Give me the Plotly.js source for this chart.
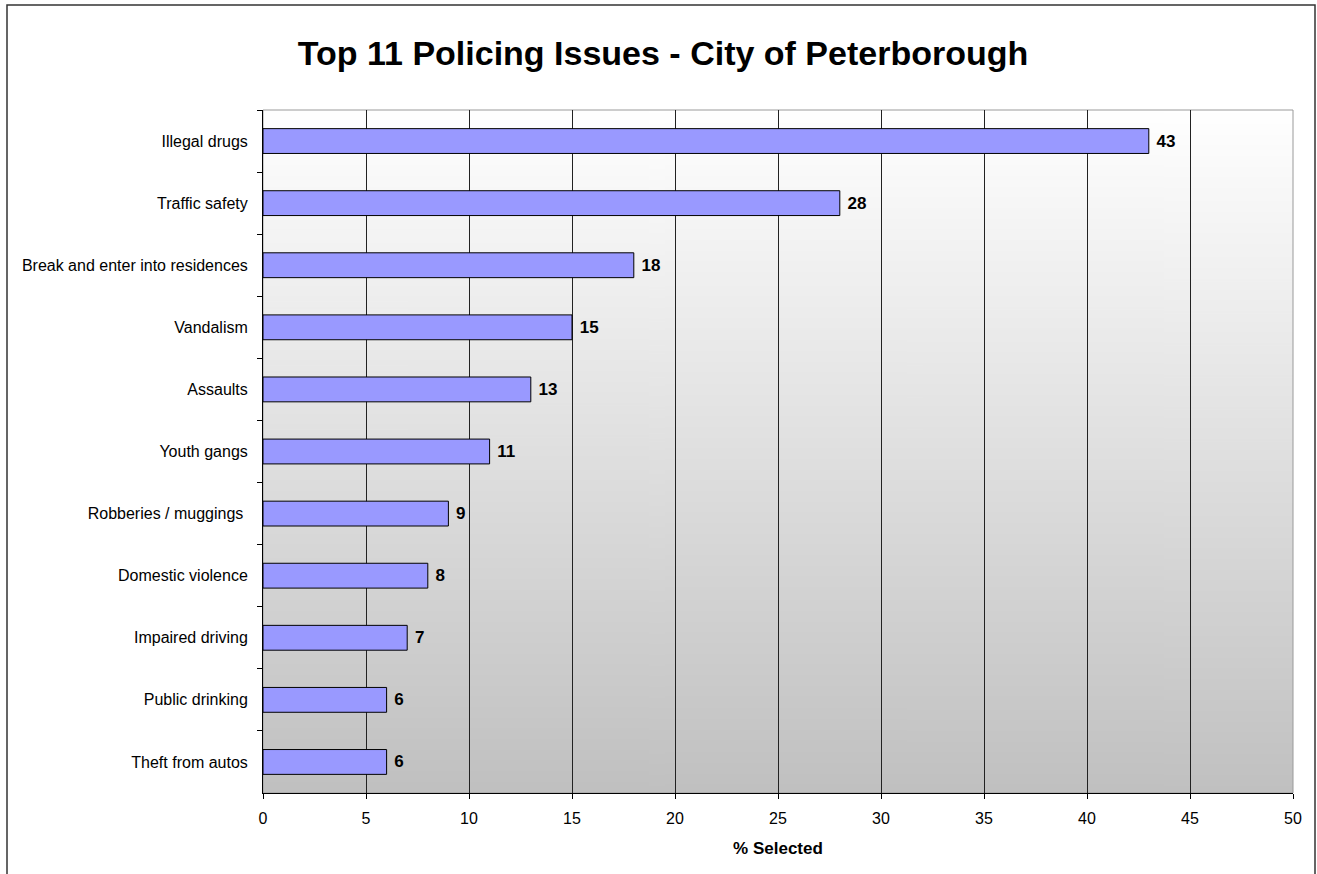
<!DOCTYPE html>
<html>
<head>
<meta charset="utf-8">
<script src="https://cdn.plot.ly/plotly-3.0.1.min.js"></script>
<style>
html,body{margin:0;padding:0;background:#fff;}
#chart{width:1317px;height:874px;}
</style>
</head>
<body>
<div id="chart"></div>
<script>
// Data
const categories = [
  "Illegal drugs",
  "Traffic safety",
  "Break and enter into residences",
  "Vandalism",
  "Assaults",
  "Youth gangs",
  "Robberies / muggings ",
  "Domestic violence",
  "Impaired driving",
  "Public drinking",
  "Theft from autos"
];
const values = [43, 28, 18, 15, 13, 11, 9, 8, 7, 6, 6];
const xTickValues = [0, 5, 10, 15, 20, 25, 30, 35, 40, 45, 50];
const chartTitle = "Top 11 Policing Issues - City of Peterborough";
const xTitle = "% Selected";

// Gradient background image for plot area
function gradientImage() {
  const c = document.createElement('canvas');
  c.width = 4; c.height = 512;
  const ctx = c.getContext('2d');
  const g = ctx.createLinearGradient(0, 0, 0, 512);
  g.addColorStop(0, '#ffffff');
  g.addColorStop(1, '#c0c0c0');
  ctx.fillStyle = g;
  ctx.fillRect(0, 0, 4, 512);
  return c.toDataURL('image/png');
}

const W = 1317, H = 874;
const mL = 263, mR = 24, mT = 110, mB = 81;
const pw = W - mL - mR, ph = H - mT - mB;
const px = v => (v - mL) / pw;
const py = v => (H - mB - v) / ph;

const trace = {
  type: 'bar',
  orientation: 'h',
  y: categories,
  x: values,
  width: 0.4,
  marker: {color: '#9999ff', line: {color: '#000000', width: 1}},
  text: values.map(String),
  textposition: 'outside',
  texttemplate: ' %{text}',
  textfont: {family: 'Liberation Sans, Arial, sans-serif', size: 17, color: '#000', weight: 'bold'},
  cliponaxis: false,
  hoverinfo: 'skip'
};

const layout = {
  width: W, height: H,
  margin: {l: mL, r: mR, t: mT, b: mB, pad: 0},
  paper_bgcolor: '#ffffff',
  plot_bgcolor: 'rgba(0,0,0,0)',
  showlegend: false,
  font: {family: 'Liberation Sans, Arial, sans-serif', color: '#000'},
  title: {
    text: '<b>' + chartTitle + '</b>',
    font: {size: 34, color: '#000', family: 'Liberation Sans, Arial, sans-serif'},
    x: 663 / W, xanchor: 'center', xref: 'container',
    y: 1 - 53 / H, yanchor: 'middle', yref: 'container'
  },
  xaxis: {
    range: [0, 50],
    tickvals: xTickValues,
    ticktext: xTickValues.map(String),
    showgrid: true,
    gridcolor: '#222222',
    gridwidth: 1,
    zeroline: false,
    showline: true,
    linecolor: '#000',
    linewidth: 1,
    ticks: 'outside',
    ticklen: 5,
    tickcolor: '#000',
    tickfont: {size: 16, color: '#000'},
    ticklabelstandoff: 6,
    title: {text: '<b>' + xTitle + '</b>', font: {size: 17, color: '#000'}, standoff: 15},
    fixedrange: true
  },
  yaxis: {
    type: 'category',
    autorange: 'reversed',
    showgrid: false,
    zeroline: false,
    showline: true,
    linecolor: '#000',
    linewidth: 1,
    ticks: 'outside',
    tickson: 'boundaries',
    ticklen: 5,
    tickcolor: '#000',
    tickfont: {size: 16, color: '#000'},
    ticklabelstandoff: 11,
    fixedrange: true
  },
  images: [{
    source: gradientImage(),
    xref: 'paper', yref: 'paper',
    x: 0, y: 1, sizex: 1, sizey: 1,
    xanchor: 'left', yanchor: 'top',
    sizing: 'stretch', layer: 'below'
  }],
  shapes: [
    {type: 'rect', xref: 'paper', yref: 'paper', x0: 0, x1: 1, y0: 0, y1: 1,
     line: {color: '#9a9a9a', width: 1}, fillcolor: 'rgba(0,0,0,0)', layer: 'below'},
    {type: 'rect', xref: 'paper', yref: 'paper', x0: px(7), x1: px(1315), y0: py(900), y1: py(5),
     line: {color: '#333333', width: 1.5}, fillcolor: 'rgba(0,0,0,0)', layer: 'above'}
  ]
};

Plotly.newPlot('chart', [trace], layout, {displayModeBar: false, staticPlot: true});
</script>
</body>
</html>
